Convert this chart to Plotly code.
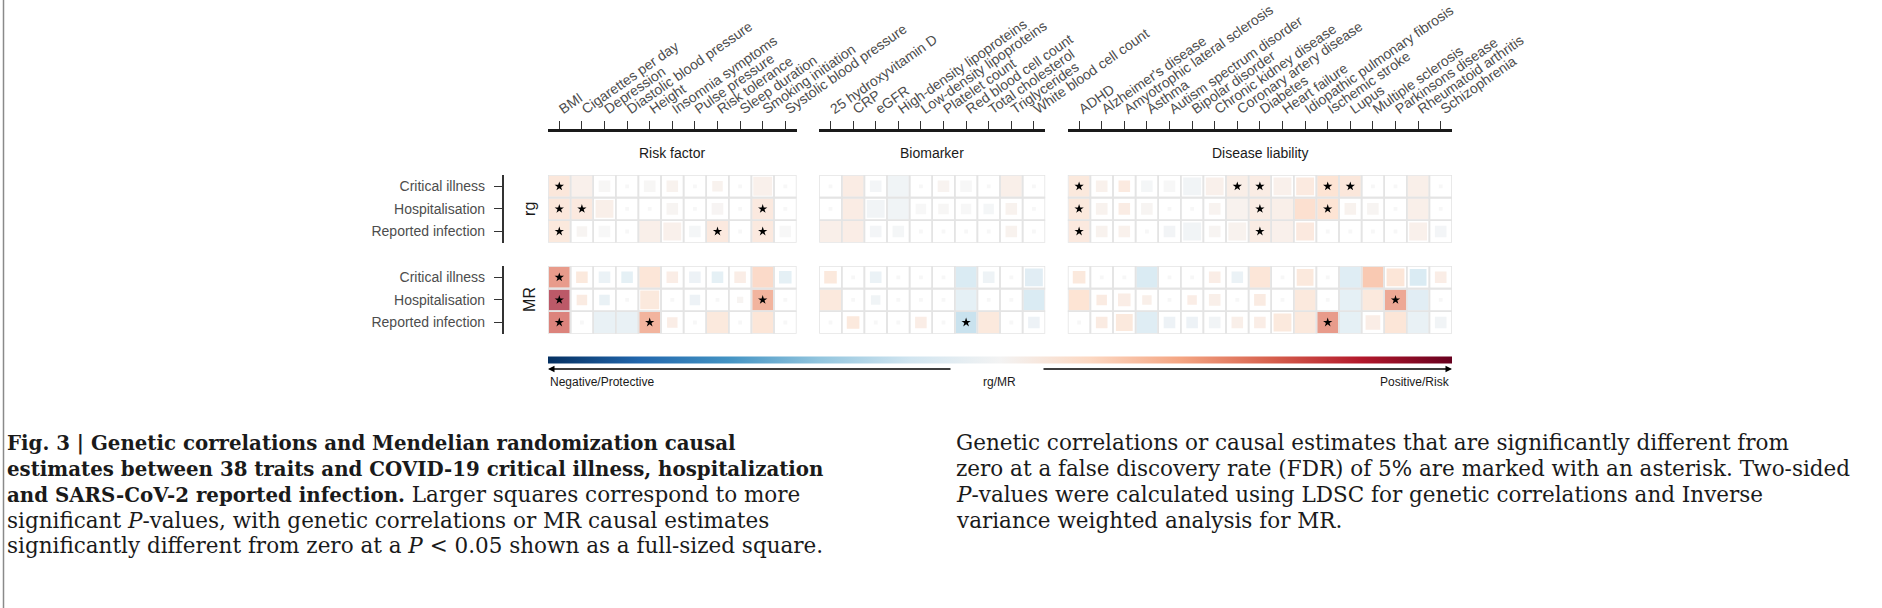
import plotly.graph_objects as go

W, H = 1882, 608

# ---------------- data ----------------
risk_traits = ["BMI", "Cigarettes per day", "Depression", "Diastolic blood pressure", "Height",
               "Insomnia symptoms", "Pulse pressure", "Risk tolerance", "Sleep duration",
               "Smoking initiation", "Systolic blood pressure"]
biomarker_traits = ["25 hydroxyvitamin D", "CRP", "eGFR", "High-density lipoproteins",
                    "Low-density lipoproteins", "Platelet count", "Red blood cell count",
                    "Total cholesterol", "Triglycerides", "White blood cell count"]
disease_traits = ["ADHD", "Alzheimer's disease", "Amyotrophic lateral sclerosis", "Asthma",
                  "Autism spectrum disorder", "Bipolar disorder", "Chronic kidney disease",
                  "Coronary artery disease", "Diabetes", "Heart failure",
                  "Idiopathic pulmonary fibrosis", "Ischemic stroke", "Lupus",
                  "Multiple sclerosis", "Parkinsons disease", "Rheumatoid arthritis",
                  "Schizophrenia"]
group_names = ["Risk factor", "Biomarker", "Disease liability"]
outcomes = ["Critical illness", "Hospitalisation", "Reported infection"]

# estimates (rg / MR), order: risk factors | biomarkers | diseases
rg_critical_est = [0.16, 0.07, 0.01, 0.00, 0.01, 0.05, 0.00, 0.05, 0.00, 0.07, 0.00,
                   0.00, 0.11, -0.03, -0.06, 0.00, 0.04, 0.00, 0.00, 0.08, 0.00,
                   0.15, 0.06, 0.13, -0.02, 0.00, -0.05, 0.07, 0.09, 0.11, 0.07, 0.13, 0.20, 0.16, 0.00, 0.00, 0.08, 0.00]
rg_hosp_est = [0.16, 0.14, 0.08, 0.00, 0.00, 0.03, 0.00, 0.02, 0.00, 0.14, 0.00,
               0.00, 0.11, -0.05, -0.06, 0.00, 0.01, 0.00, -0.02, 0.05, 0.00,
               0.15, 0.05, 0.11, 0.03, 0.00, 0.00, 0.04, 0.05, 0.11, 0.08, 0.22, 0.20, 0.05, 0.03, 0.00, 0.08, 0.00]
rg_reported_est = [0.15, 0.03, 0.00, 0.00, 0.08, 0.07, -0.02, 0.14, 0.00, 0.14, 0.00,
                   0.08, 0.10, -0.03, -0.02, 0.00, 0.00, 0.00, 0.00, 0.05, 0.00,
                   0.14, 0.05, 0.06, 0.00, -0.04, -0.05, 0.03, 0.05, 0.11, 0.07, 0.14, 0.00, 0.00, 0.00, 0.00, 0.07, -0.03]
mr_critical_est = [0.55, 0.15, -0.10, -0.15, 0.18, 0.10, -0.08, -0.15, 0.10, 0.25, -0.15,
                   0.15, 0.00, -0.10, 0.00, 0.00, 0.00, -0.22, -0.07, 0.00, -0.18,
                   0.15, 0.00, 0.00, -0.22, 0.00, 0.00, 0.10, -0.10, 0.18, 0.00, 0.15, 0.00, -0.20, 0.35, 0.18, -0.22, 0.10]
mr_hosp_est = [0.85, 0.12, -0.12, 0.00, 0.15, 0.00, -0.08, 0.00, 0.03, 0.45, 0.00,
               0.15, 0.00, -0.06, 0.00, 0.00, 0.00, -0.15, 0.00, 0.00, -0.22,
               0.20, 0.12, 0.10, 0.08, 0.00, 0.10, 0.08, 0.00, 0.12, 0.00, 0.15, 0.00, -0.15, 0.15, 0.50, -0.18, 0.00]
mr_reported_est = [0.65, 0.00, -0.12, -0.12, 0.45, 0.10, 0.00, 0.15, 0.00, 0.18, 0.00,
                   0.00, 0.15, 0.00, 0.00, 0.10, 0.00, -0.30, 0.15, 0.00, -0.08,
                   0.00, 0.12, 0.15, -0.20, -0.08, -0.08, -0.05, 0.08, 0.10, 0.15, 0.15, 0.55, -0.15, 0.10, 0.18, -0.12, -0.05]

# relative significance (square size; 1 = P < 0.05, full-sized square)
rg_critical_sig = [1, 1, .55, .18, .55, .55, .18, .5, .18, .9, .18,
                   .18, 1, .55, 1, .18, .55, .55, .18, 1, .18,
                   1, .55, .55, .55, .55, .85, .85, 1, 1, .85, .85, 1, 1, .18, .18, 1, .18]
rg_hosp_sig = [1, 1, .85, .18, .18, .55, .18, .55, .18, 1, .18,
               .18, 1, .85, 1, .5, .5, .5, .5, .55, .18,
               1, .55, .55, .55, .18, .18, .55, 1, 1, 1, 1, 1, .55, .55, .18, 1, .18]
rg_reported_sig = [1, .5, .55, .18, 1, .85, .55, 1, .18, 1, .55,
                   1, 1, .55, .55, .18, .18, .18, .18, .55, .18,
                   1, .55, .55, .18, .55, .85, .55, .85, 1, 1, .85, .18, .18, .18, .18, .85, .55]
mr_critical_sig = [1, .55, .55, .55, 1, .55, .55, .55, .55, 1, .6,
                   .6, .18, .55, .18, .18, .18, 1, .55, .18, .85,
                   .6, .18, .18, 1, .18, .18, .55, .55, 1, .18, .8, .18, 1, 1, .85, .8, .55]
mr_hosp_sig = [1, .5, .5, .18, .9, .18, .5, .18, .3, 1, .18,
               1, .18, .45, .18, .18, .18, 1, .18, .18, 1,
               1, .5, .6, .45, .18, .45, .55, .18, .55, .18, 1, .18, 1, 1, 1, 1, .18]
mr_reported_sig = [1, .18, 1, 1, 1, .5, .18, 1, .18, 1, .18,
                   .18, .6, .18, .18, .55, .18, 1, 1, .18, .55,
                   .18, .55, .8, 1, .55, .55, .55, .55, .55, .85, 1, 1, 1, .7, 1, 1, .55]

# significant at FDR 5% (asterisk)
rg_critical_fdr = ["BMI", "ADHD", "Coronary artery disease", "Diabetes", "Ischemic stroke", "Lupus"]
rg_hosp_fdr = ["BMI", "Cigarettes per day", "Smoking initiation", "ADHD", "Diabetes", "Ischemic stroke"]
rg_reported_fdr = ["BMI", "Risk tolerance", "Smoking initiation", "ADHD", "Diabetes"]
mr_critical_fdr = ["BMI"]
mr_hosp_fdr = ["BMI", "Smoking initiation", "Parkinsons disease"]
mr_reported_fdr = ["BMI", "Height", "Red blood cell count", "Ischemic stroke"]

# ---------------- layout helpers ----------------
def fx(p):
    return p / W

def fy(p):
    return 1 - p / H

CELL = 22.6
X0 = 548.0
GAP = CELL
groups = [risk_traits, biomarker_traits, disease_traits]
xaxes = ["x", "x2", "x3"]
dom = []
cur = X0
for g in groups:
    dom.append((cur, cur + len(g) * CELL))
    cur = cur + len(g) * CELL + GAP
RG_TOP, MR_TOP = 175.0, 266.0
AX_LINE_Y = 130.0
Y_AX_X = 503.0

colorscale = [[0.0, "#053061"], [0.1, "#2166ac"], [0.2, "#4393c3"], [0.3, "#92c5de"],
              [0.4, "#d1e5f0"], [0.5, "#f3f3f3"], [0.6, "#fcd8c2"], [0.7, "#f4a582"],
              [0.8, "#d6604d"], [0.9, "#b2182b"], [1.0, "#67001f"]]

analyses = [
    ("y", [(rg_critical_est, rg_critical_sig, rg_critical_fdr),
           (rg_hosp_est, rg_hosp_sig, rg_hosp_fdr),
           (rg_reported_est, rg_reported_sig, rg_reported_fdr)]),
    ("y2", [(mr_critical_est, mr_critical_sig, mr_critical_fdr),
            (mr_hosp_est, mr_hosp_sig, mr_hosp_fdr),
            (mr_reported_est, mr_reported_sig, mr_reported_fdr)]),
]

fig = go.Figure()
first = True
for yax, rows in analyses:
    start = 0
    for gi, traits in enumerate(groups):
        n = len(traits)
        xs, ys, vals, sizes, sx, sy = [], [], [], [], [], []
        for ri, (est, sig, fdr) in enumerate(rows):
            for j in range(n):
                xs.append(j)
                ys.append(ri)
                vals.append(est[start + j])
                sizes.append(sig[start + j] * (CELL - 1.6))
                if traits[j] in fdr:
                    sx.append(j)
                    sy.append(ri)
        marker = dict(symbol="square", size=sizes, color=vals, colorscale=colorscale,
                      cmin=-1, cmax=1, line=dict(width=0))
        if first:
            marker.update(showscale=True, colorbar=dict(
                orientation="h", x=fx(1000), xanchor="center", y=fy(359.5), yanchor="middle",
                len=904, lenmode="pixels", thickness=7, thicknessmode="pixels",
                showticklabels=False, ticks="", outlinewidth=0, xpad=0, ypad=0))
            first = False
        else:
            marker.update(showscale=False)
        fig.add_trace(go.Scatter(x=xs, y=ys, mode="markers", marker=marker,
                                 xaxis=xaxes[gi], yaxis=yax, hoverinfo="skip", showlegend=False))
        # grid cells
        fig.add_trace(go.Scatter(x=xs, y=ys, mode="markers",
                                 marker=dict(symbol="square", size=CELL, color="rgba(0,0,0,0)",
                                             line=dict(color="#e4e4e4", width=1.6)),
                                 xaxis=xaxes[gi], yaxis=yax, hoverinfo="skip", showlegend=False))
        # asterisks
        fig.add_trace(go.Scatter(x=sx, y=sy, mode="markers",
                                 marker=dict(symbol="star", size=7, color="#000000", line=dict(width=0)),
                                 xaxis=xaxes[gi], yaxis=yax, hoverinfo="skip", showlegend=False))
        start += n

axfont = dict(family="Liberation Sans, Arial, sans-serif", size=14, color="#4d4d4d")
layout = dict(
    width=W, height=H, template="none",
    margin=dict(l=0, r=0, t=0, b=0),
    paper_bgcolor="white", plot_bgcolor="rgba(0,0,0,0)",
    font=dict(family="Liberation Sans, Arial, sans-serif", size=14, color="#1a1a1a"),
    showlegend=False,
)
for gi, traits in enumerate(groups):
    key = "xaxis" if gi == 0 else "xaxis%d" % (gi + 1)
    layout[key] = dict(
        domain=[fx(dom[gi][0]), fx(dom[gi][1])], range=[-0.5, len(traits) - 0.5],
        tickmode="array", tickvals=list(range(len(traits))), ticktext=traits,
        side="top", anchor="free", position=fy(AX_LINE_Y),
        showline=True, linecolor="#1a1a1a", linewidth=2.5,
        ticks="outside", ticklen=8, tickwidth=1.3, tickcolor="#333333",
        tickangle=-35, tickfont=axfont, showgrid=False, zeroline=False,
        automargin=False, fixedrange=True)
for ai, top in enumerate([RG_TOP, MR_TOP]):
    key = "yaxis" if ai == 0 else "yaxis2"
    layout[key] = dict(
        domain=[fy(top + 3 * CELL), fy(top)], range=[2.5, -0.5],
        tickmode="array", tickvals=[0, 1, 2], ticktext=outcomes,
        anchor="free", position=fx(Y_AX_X),
        showline=True, linecolor="#333333", linewidth=2.2,
        ticks="outside", ticklen=8, tickwidth=1.3, tickcolor="#333333",
        ticklabelstandoff=6, tickfont=axfont, showgrid=False, zeroline=False,
        automargin=False, fixedrange=True)
fig.update_layout(**layout)

ann = []
for gi, name in enumerate(group_names):
    ann.append(dict(text=name, x=fx((dom[gi][0] + dom[gi][1]) / 2), y=fy(152.5), xref="paper", yref="paper",
                    showarrow=False, xanchor="center", yanchor="middle",
                    font=dict(size=14, color="#1a1a1a")))
for lab, top in [("rg", RG_TOP), ("MR", MR_TOP)]:
    ann.append(dict(text=lab, x=fx(530), y=fy(top + 1.5 * CELL), xref="paper", yref="paper",
                    showarrow=False, textangle=-90, xanchor="center", yanchor="middle",
                    font=dict(size=16, color="#1a1a1a")))
# colour bar labels and arrows
ann.append(dict(text="Negative/Protective", x=fx(548), y=fy(382), xref="paper", yref="paper",
                showarrow=False, xanchor="left", yanchor="middle", font=dict(size=12, color="#1a1a1a")))
ann.append(dict(text="Positive/Risk", x=fx(1452), y=fy(382), xref="paper", yref="paper",
                showarrow=False, xanchor="right", yanchor="middle", font=dict(size=12, color="#1a1a1a")))
ann.append(dict(text="rg/MR", x=fx(1000), y=fy(382), xref="paper", yref="paper",
                showarrow=False, xanchor="center", yanchor="middle", font=dict(size=12, color="#1a1a1a")))
ann.append(dict(text="", x=fx(548), y=fy(369), xref="paper", yref="paper", showarrow=True,
                ax=404, ay=0, arrowhead=2, arrowsize=1, arrowwidth=1.3, arrowcolor="#000000"))
ann.append(dict(text="", x=fx(1452), y=fy(369), xref="paper", yref="paper", showarrow=True,
                ax=-410, ay=0, arrowhead=2, arrowsize=1, arrowwidth=1.3, arrowcolor="#000000"))

# caption
cap_font = dict(family="DejaVu Serif, Liberation Serif, serif", size=21.5, color="#1a1a1a")
B = '<span style="font-size:19.8px"><b>%s</b></span>'
left_lines = [
    B % "Fig. 3 | Genetic correlations and Mendelian randomization causal",
    B % "estimates between 38 traits and COVID-19 critical illness, hospitalization",
    B % "and SARS-CoV-2 reported infection." + " Larger squares correspond to more",
    "significant <i>P</i>-values, with genetic correlations or MR causal estimates",
    "significantly different from zero at a <i>P</i> &lt; 0.05 shown as a full-sized square.",
]
right_lines = [
    "Genetic correlations or causal estimates that are significantly different from",
    "zero at a false discovery rate (FDR) of 5% are marked with an asterisk. Two-sided",
    "<i>P</i>-values were calculated using LDSC for genetic correlations and Inverse",
    "variance weighted analysis for MR.",
]
for i, t in enumerate(left_lines):
    ann.append(dict(text=t, x=fx(6), y=fy(443 + 25.7 * i), xref="paper", yref="paper",
                    showarrow=False, xanchor="left", yanchor="middle", font=cap_font, borderpad=0))
for i, t in enumerate(right_lines):
    ann.append(dict(text=t, x=fx(955), y=fy(443 + 25.7 * i), xref="paper", yref="paper",
                    showarrow=False, xanchor="left", yanchor="middle", font=cap_font, borderpad=0))
fig.update_layout(annotations=ann)

fig.add_shape(type="line", xref="paper", yref="paper", x0=fx(3.5), x1=fx(3.5), y0=0, y1=1,
              line=dict(color="#8a8a8a", width=1.5))

fig.write_html("out.html", include_plotlyjs=True, config={"displayModeBar": False},
               post_script="document.body.style.margin='0';document.body.style.overflow='hidden';")
